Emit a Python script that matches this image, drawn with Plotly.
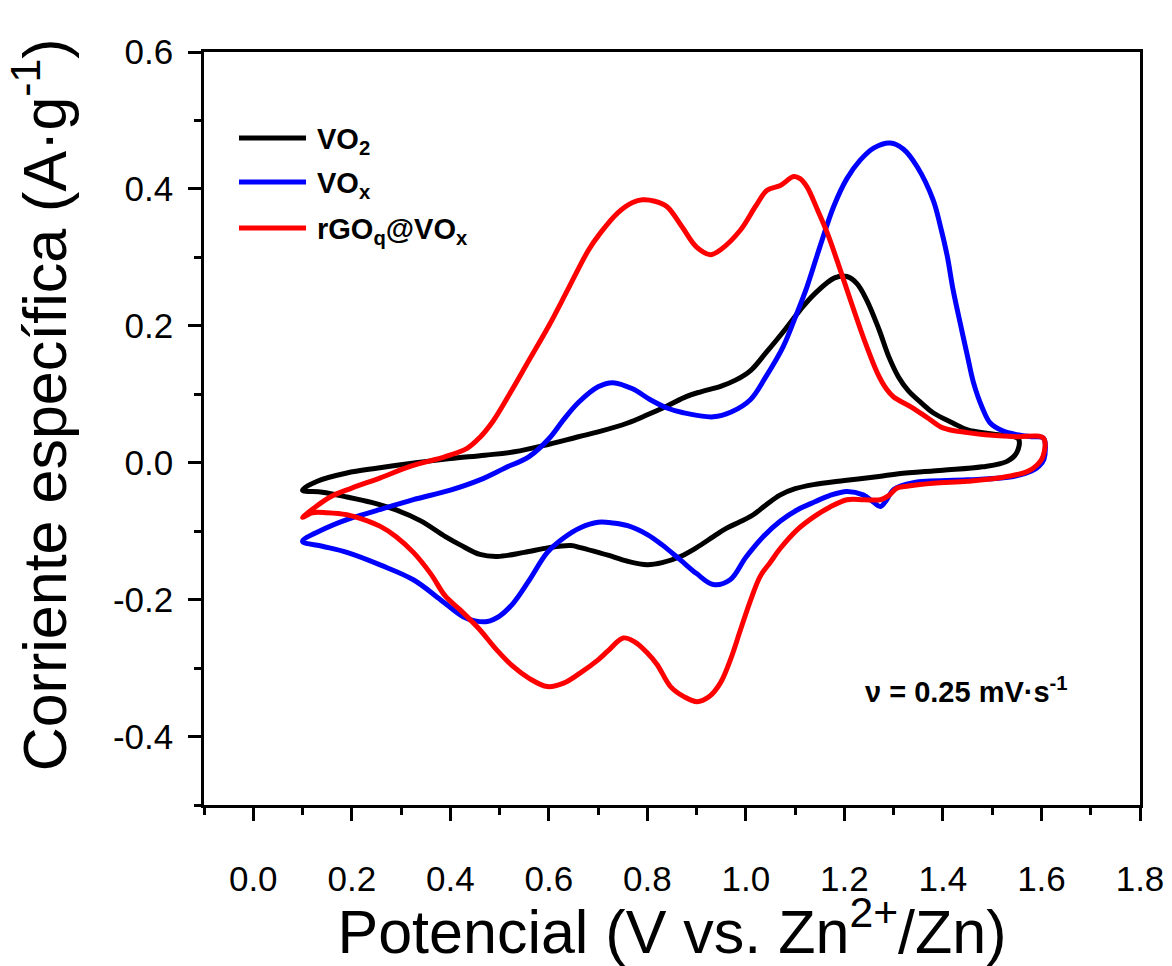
import plotly.graph_objects as go

# ---------------- data ----------------
vo2_x = [0.10, 0.13, 0.19, 0.25, 0.33, 0.40, 0.47, 0.53, 0.60, 0.66, 0.70, 0.76, 0.80, 0.84, 0.88,
         0.91, 0.95, 0.98, 1.01, 1.04, 1.08, 1.11, 1.14, 1.18, 1.205, 1.225, 1.245, 1.27, 1.29, 1.31,
         1.33, 1.36, 1.38, 1.42, 1.45, 1.50, 1.553,
         1.55, 1.53, 1.48, 1.40, 1.31, 1.27, 1.20, 1.137, 1.10, 1.07, 1.04, 1.015, 0.989, 0.96, 0.934,
         0.90, 0.867, 0.83, 0.80, 0.76, 0.72, 0.70, 0.664, 0.645, 0.60, 0.55, 0.495, 0.46, 0.42, 0.39,
         0.34, 0.29, 0.24, 0.19, 0.14, 0.10]
vo2_y = [-0.040, -0.027, -0.015, -0.008, 0.000, 0.006, 0.011, 0.016, 0.027, 0.038, 0.045, 0.058,
         0.070, 0.083, 0.097, 0.104, 0.112, 0.121, 0.135, 0.160, 0.195, 0.223, 0.247, 0.270, 0.272,
         0.262, 0.238, 0.195, 0.155, 0.125, 0.105, 0.085, 0.073, 0.058, 0.048, 0.042, 0.035,
         0.015, 0.002, -0.006, -0.011, -0.016, -0.020, -0.026, -0.032, -0.038, -0.047, -0.062, -0.076,
         -0.086, -0.096, -0.108, -0.124, -0.137, -0.146, -0.149, -0.144, -0.135, -0.131, -0.124,
         -0.121, -0.124, -0.131, -0.137, -0.134, -0.120, -0.108, -0.085, -0.069, -0.058, -0.050,
         -0.043, -0.040]

vox_x = [0.10, 0.14, 0.19, 0.25, 0.325, 0.40, 0.46, 0.51, 0.56, 0.60, 0.63, 0.66, 0.70, 0.73, 0.77,
         0.806, 0.84, 0.873, 0.934, 0.97, 1.009, 1.04, 1.076, 1.10, 1.124, 1.15, 1.178, 1.205, 1.232,
         1.26, 1.293, 1.32, 1.348, 1.38, 1.395, 1.409, 1.42, 1.435, 1.45, 1.462, 1.48, 1.496, 1.52,
         1.55, 1.58, 1.604,
         1.605, 1.595, 1.58, 1.543, 1.45, 1.34, 1.30, 1.285, 1.273, 1.26, 1.238, 1.205, 1.17, 1.14,
         1.104, 1.07, 1.035, 1.00, 0.968, 0.934, 0.90, 0.867, 0.83, 0.80, 0.76, 0.73, 0.70, 0.664,
         0.63, 0.597, 0.56, 0.528, 0.50, 0.475, 0.45, 0.426, 0.38, 0.325, 0.26, 0.19, 0.14, 0.10]
vox_y = [-0.115, -0.098, -0.083, -0.070, -0.054, -0.040, -0.025, -0.008, 0.009, 0.035, 0.063, 0.088,
         0.111, 0.117, 0.108, 0.092, 0.080, 0.073, 0.067, 0.074, 0.092, 0.125, 0.170, 0.212, 0.257,
         0.315, 0.374, 0.415, 0.442, 0.460, 0.467, 0.458, 0.432, 0.384, 0.345, 0.301, 0.255, 0.204,
         0.155, 0.117, 0.080, 0.058, 0.047, 0.041, 0.038, 0.036,
         0.005, -0.005, -0.012, -0.020, -0.025, -0.029, -0.039, -0.055, -0.064, -0.058, -0.047,
         -0.042, -0.048, -0.057, -0.069, -0.085, -0.108, -0.138, -0.171, -0.178, -0.162, -0.142,
         -0.120, -0.105, -0.092, -0.088, -0.087, -0.095, -0.110, -0.131, -0.172, -0.205, -0.224,
         -0.232, -0.231, -0.225, -0.200, -0.171, -0.150, -0.131, -0.122, -0.115]

rgo_x = [0.10, 0.12, 0.156, 0.20, 0.258, 0.32, 0.39, 0.434, 0.46, 0.487, 0.52, 0.56, 0.60, 0.64, 0.68,
         0.704, 0.74, 0.77, 0.79, 0.815, 0.84, 0.87, 0.90, 0.928, 0.95, 0.989, 1.02, 1.043, 1.07,
         1.097, 1.11, 1.124, 1.145, 1.165, 1.19, 1.212, 1.24, 1.267, 1.285, 1.30, 1.334, 1.37, 1.40,
         1.45, 1.50, 1.55, 1.604,
         1.603, 1.59, 1.571, 1.516, 1.45, 1.38, 1.33, 1.307, 1.29, 1.273, 1.24, 1.205, 1.17, 1.14,
         1.104, 1.07, 1.05, 1.029, 1.01, 0.989, 0.97, 0.948, 0.925, 0.901, 0.875, 0.847, 0.82, 0.80,
         0.775, 0.751, 0.72, 0.70, 0.664, 0.63, 0.597, 0.56, 0.528, 0.49, 0.46, 0.42, 0.39, 0.36,
         0.325, 0.29, 0.258, 0.22, 0.19, 0.15, 0.12, 0.10]
rgo_y = [-0.080, -0.068, -0.050, -0.037, -0.022, -0.005, 0.009, 0.021, 0.037, 0.061, 0.100, 0.150,
         0.200, 0.255, 0.310, 0.335, 0.365, 0.380, 0.384, 0.382, 0.374, 0.345, 0.315, 0.304, 0.312,
         0.340, 0.375, 0.398, 0.405, 0.418, 0.415, 0.403, 0.370, 0.336, 0.285, 0.238, 0.180, 0.131,
         0.108, 0.096, 0.082, 0.065, 0.051, 0.044, 0.040, 0.038, 0.036,
         0.009, -0.004, -0.013, -0.022, -0.027, -0.030, -0.034, -0.037, -0.048, -0.054, -0.054,
         -0.054, -0.065, -0.078, -0.098, -0.125, -0.145, -0.166, -0.200, -0.244, -0.285, -0.322,
         -0.342, -0.349, -0.342, -0.327, -0.295, -0.278, -0.262, -0.256, -0.275, -0.288, -0.307,
         -0.322, -0.327, -0.315, -0.298, -0.270, -0.244, -0.215, -0.195, -0.162, -0.131, -0.108,
         -0.093, -0.082, -0.076, -0.073, -0.073, -0.080]

series_names = ["VO<sub>2</sub>", "VO<sub>x</sub>", "rGO<sub>q</sub>@VO<sub>x</sub>"]
series_colors = ["#000000", "#0000FF", "#FF0000"]

x_tickvals = [0.0, 0.2, 0.4, 0.6, 0.8, 1.0, 1.2, 1.4, 1.6, 1.8]
x_ticktext = ["0.0", "0.2", "0.4", "0.6", "0.8", "1.0", "1.2", "1.4", "1.6", "1.8"]
x_minorvals = [-0.1, 0.1, 0.3, 0.5, 0.7, 0.9, 1.1, 1.3, 1.5, 1.7]
y_tickvals = [-0.4, -0.2, 0.0, 0.2, 0.4, 0.6]
y_ticktext = ["-0.4", "-0.2", "0.0", "0.2", "0.4", "0.6"]
y_minorvals = [-0.5, -0.3, -0.1, 0.1, 0.3, 0.5]

FONT = "Arial, Liberation Sans, sans-serif"

fig = go.Figure()
for xs, ys, name, col in zip([vo2_x, vox_x, rgo_x], [vo2_y, vox_y, rgo_y], series_names, series_colors):
    fig.add_trace(go.Scatter(x=xs, y=ys, mode="lines", name=name,
                             line=dict(color=col, width=5, shape="spline", smoothing=1.0),
                             showlegend=False))

# manual legend (long line samples like the reference)
leg_y = [0.8858, 0.8274, 0.7663]
for name, col, yy in zip(series_names, series_colors, leg_y):
    fig.add_shape(type="line", xref="paper", yref="paper", x0=0.0374, x1=0.109, y0=yy, y1=yy,
                  line=dict(color=col, width=5))
    fig.add_annotation(xref="paper", yref="paper", x=0.1186, y=yy, text="<b>" + name + "</b>",
                       showarrow=False, xanchor="left", yanchor="middle", yshift=-3,
                       font=dict(family=FONT, size=29, color="black"))

fig.add_annotation(xref="paper", yref="paper", x=0.704, y=0.153,
                   text="<b>ν = 0.25 mV·s<sup>-1</sup></b>", showarrow=False,
                   xanchor="left", yanchor="middle", font=dict(family=FONT, size=29, color="black"))

# y-axis title placed as in the reference
fig.add_annotation(xref="paper", yref="paper", x=-0.175, y=0.531, textangle=-90,
                   text="Corriente específica (A·g<sup>-1</sup>)", showarrow=False,
                   xanchor="center", yanchor="middle",
                   font=dict(family=FONT, size=61, color="black"))

axis_common = dict(showline=True, mirror=True, linecolor="black", linewidth=2.5,
                   ticks="outside", ticklen=13, tickwidth=2.5, tickcolor="black",
                   showgrid=False, zeroline=False,
                   tickfont=dict(family=FONT, size=35, color="black"))

fig.update_xaxes(range=[-0.1, 1.8], tickmode="array", tickvals=x_tickvals, ticktext=x_ticktext,
                 minor=dict(tickmode="array", tickvals=x_minorvals, ticks="outside", ticklen=7,
                            tickwidth=2.5, tickcolor="black"),
                 ticklabelstandoff=28,
                 title=dict(text="Potencial (V vs. Zn<sup>2+</sup>/Zn)", standoff=12,
                            font=dict(family=FONT, size=61, color="black")),
                 **axis_common)
fig.update_yaxes(range=[-0.5, 0.6], tickmode="array", tickvals=y_tickvals, ticktext=y_ticktext,
                 minor=dict(tickmode="array", tickvals=y_minorvals, ticks="outside", ticklen=7,
                            tickwidth=2.5, tickcolor="black"),
                 ticklabelstandoff=8,
                 **axis_common)

fig.update_layout(width=1172, height=966, margin=dict(l=204, r=32, t=52, b=161, autoexpand=False),
                  plot_bgcolor="white", paper_bgcolor="white", showlegend=False)

fig.write_html("out.html")
